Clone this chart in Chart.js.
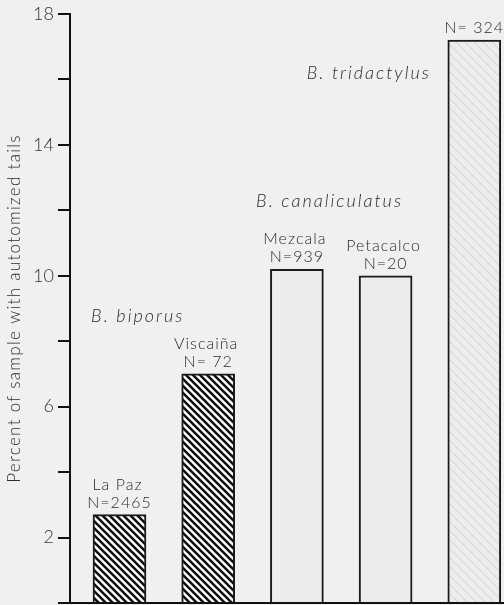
<!DOCTYPE html>
<html><head><meta charset="utf-8">
<script src="https://cdn.jsdelivr.net/npm/chart.js@4"></script>
<style>html,body{margin:0;padding:0;background:#f1eff0;overflow:hidden}#wrap{width:504px;height:605px}</style>
</head><body><div id="wrap"><canvas id="c" width="504" height="605"></canvas></div>
<script>
const sites = ['La Paz', 'Viscaiña', 'Mezcala', 'Petacalco', ''];
const sampleSizes = ['N=2465', 'N= 72', 'N=939', 'N=20', 'N= 324'];
const percents = [2.7, 7.0, 10.2, 10.0, 17.2];
const barPositions = [1, 2, 3, 4, 5];
const species = ['B. biporus', 'B. canaliculatus', 'B. tridactylus'];
const speciesX = [0.68, 2.54, 3.11];
const speciesY = [8.6, 12.1, 16.0];
const yTickLabels = [2, 6, 10, 14, 18];
const yTitle = 'Percent of sample with autotomized tails';

function hatch(bg, fg, size, lw) {
  const c = document.createElement('canvas');
  c.width = c.height = size;
  const x = c.getContext('2d');
  x.fillStyle = bg; x.fillRect(0, 0, size, size);
  if (fg) {
    x.strokeStyle = fg; x.lineWidth = lw; x.beginPath();
    for (const k of [-1, 0, 1]) {
      x.moveTo(-1, -1 + k * size);
      x.lineTo(size + 1, size + 1 + k * size);
    }
    x.stroke();
  }
  return x.createPattern(c, 'repeat');
}
const pDense = hatch('#ffffff', '#111111', 7, 2.6);
const pLight = hatch('#edebed', null, 8, 0);
const pFaint = hatch('#edebed', '#d2d0d3', 9, 1);
const fills = [pDense, pDense, pLight, pLight, pFaint];

const FONT = 'Lato';
const labelPlugin = {
  id: 'barLabels',
  afterDatasetsDraw(chart) {
    const ctx = chart.ctx;
    const meta = chart.getDatasetMeta(0);
    const xs = chart.scales.x, ys = chart.scales.y;
    const area = chart.chartArea;
    ctx.save();
    ctx.fillStyle = '#2b2b2b';
    ctx.textAlign = 'center';
    ctx.textBaseline = 'alphabetic';
    ctx.font = '300 16px ' + FONT;
    ctx.letterSpacing = '1px';
    meta.data.forEach((bar, i) => {
      ctx.fillText(sampleSizes[i], bar.x, bar.y - 7);
      if (sites[i]) ctx.fillText(sites[i], bar.x - 2, bar.y - 25);
    });
    ctx.font = 'italic 300 18px ' + FONT;
    ctx.letterSpacing = '2px';
    ctx.textAlign = 'left';
    species.forEach((s, i) => ctx.fillText(s, xs.getPixelForValue(speciesX[i]), ys.getPixelForValue(speciesY[i])));
    // y-axis title
    ctx.font = '300 17px ' + FONT;
    ctx.letterSpacing = '1.3px';
    ctx.textAlign = 'center';
    ctx.textBaseline = 'middle';
    ctx.translate(15, (area.top + area.bottom) / 2);
    ctx.rotate(-Math.PI / 2);
    ctx.fillText(yTitle, 0, 0);
    ctx.restore();
  }
};

new Chart(document.getElementById('c'), {
  type: 'bar',
  data: {
    datasets: [{
      data: barPositions.map((p, i) => ({ x: p, y: percents[i] })),
      backgroundColor: fills,
      borderColor: '#1b1b1b',
      borderWidth: 2,
      borderSkipped: 'bottom',
      barThickness: 53
    }]
  },
  options: {
    responsive: false,
    animation: false,
    events: [],
    layout: { padding: { top: 14, right: 0, bottom: 2, left: 0 } },
    plugins: { legend: { display: false }, tooltip: { enabled: false } },
    scales: {
      x: {
        type: 'linear', min: 0.442, max: 5.335, offset: false,
        afterFit(s) { s.height = 0; s.paddingLeft = 0; s.paddingRight = 0; },
        ticks: { display: false },
        grid: { display: false, drawTicks: false, offset: false },
        border: { display: true, color: '#111', width: 2 }
      },
      y: {
        min: 0, max: 18,
        afterFit(s) { s.width = 70; s.paddingTop = 0; s.paddingBottom = 0; },
        ticks: {
          stepSize: 2, autoSkip: false,
          callback: v => yTickLabels.includes(v) ? String(v) : '',
          font: { family: FONT, size: 18, weight: '300' }, color: '#333', padding: 4
        },
        grid: { drawOnChartArea: false, drawTicks: true, tickLength: 12, color: '#111', lineWidth: 2 },
        border: { display: true, color: '#111', width: 2 },
        title: { display: false }
      }
    }
  },
  plugins: [labelPlugin]
});
</script></body></html>
